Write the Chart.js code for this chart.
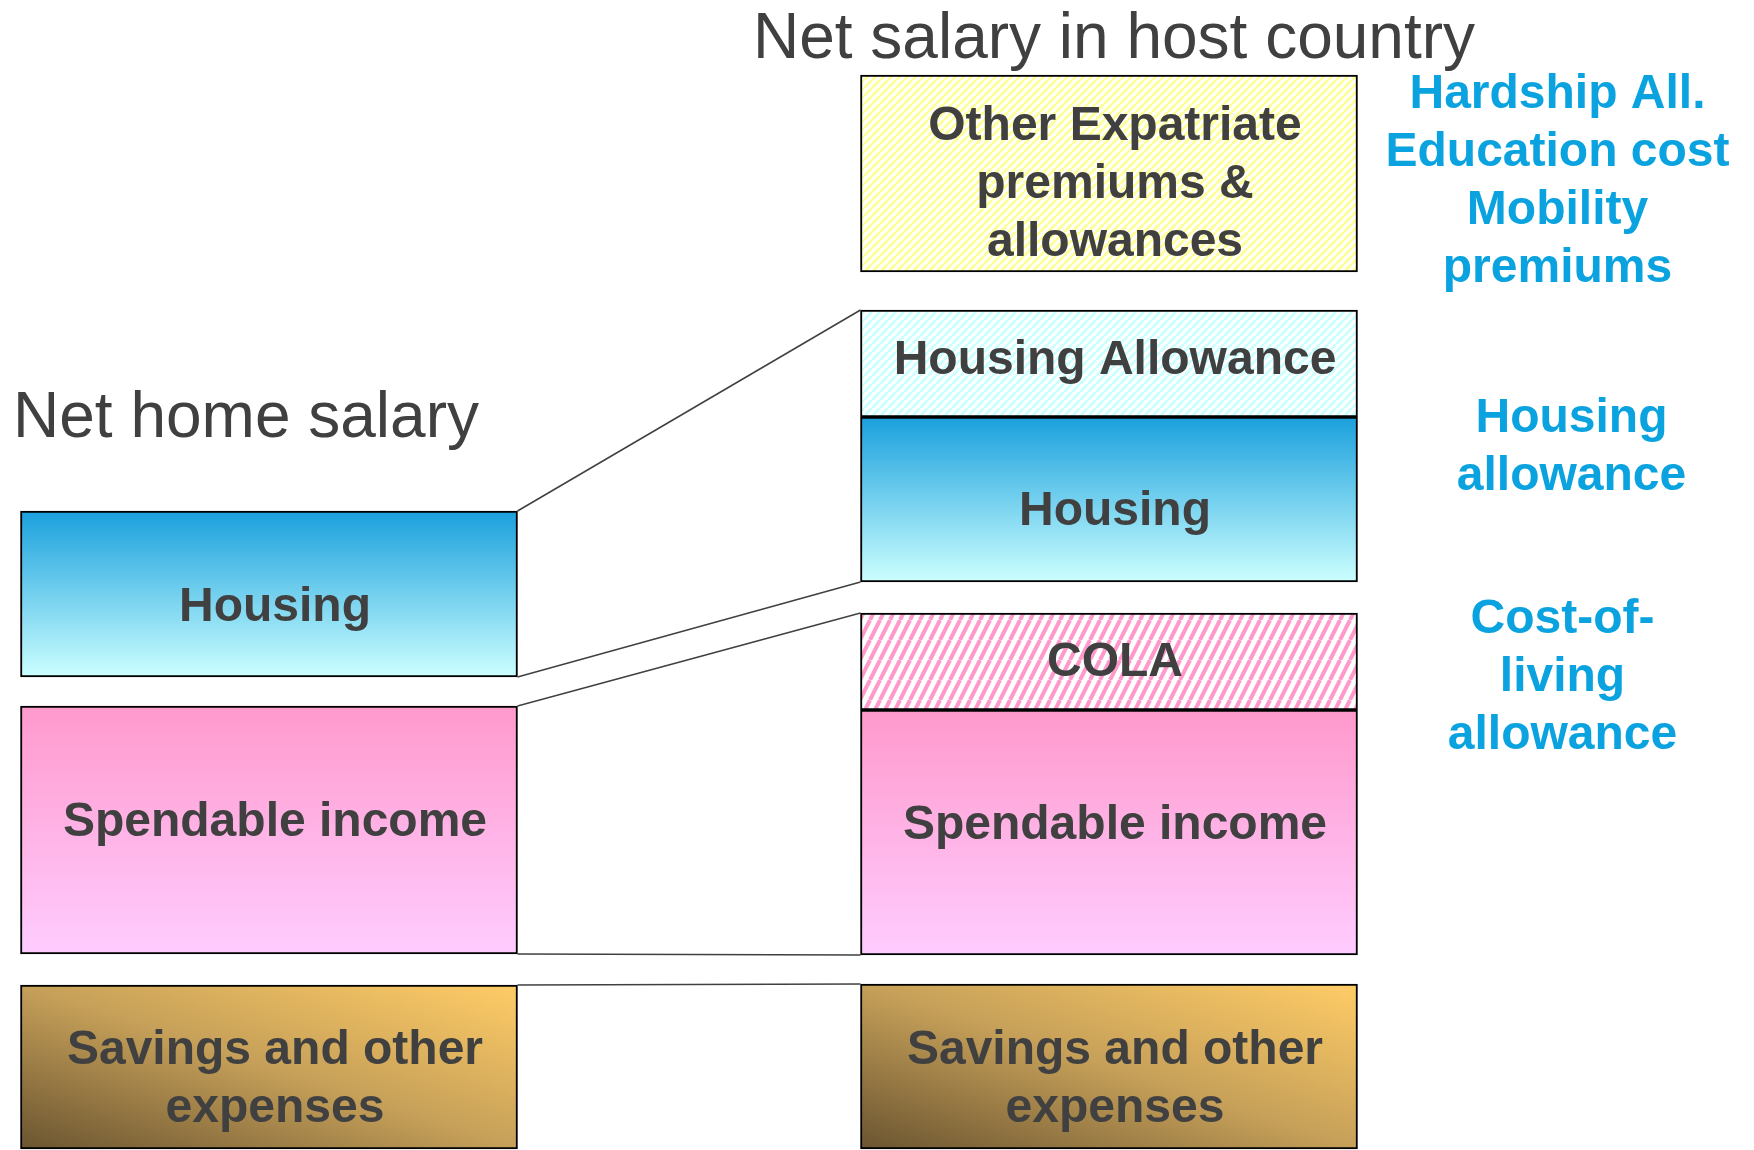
<!DOCTYPE html>
<html>
<head>
<meta charset="utf-8">
<title>Net home salary vs net salary in host country</title>
<script src="https://cdn.jsdelivr.net/npm/chart.js@4.4.1/dist/chart.umd.min.js"></script>
<style>
  html, body { margin: 0; padding: 0; background: #fff; }
  #wrap { width: 1754px; height: 1150px; position: relative; }
</style>
</head>
<body>
<div id="wrap"><canvas id="myChart"></canvas></div>
<script>
// two columns: home salary (left) and host country salary (right)
const columns = ['Net home salary', 'Net salary in host country'];

// every block is a [bottom, top] range, in salary units (0 = bottom of picture)
const savings = [[0.1, 16.5], [0.1, 16.6]];
const spendable = [[19.6, 44.4], [19.5, 44.0]];
const cola = [null, [44.0, 53.7]];
const housing = [[47.3, 63.9], [56.8, 73.3]];
const housingAllowance = [null, [73.3, 84.0]];
const otherPremiums = [null, [87.8, 107.5]];

// text inside the blocks, one entry per line
const blockLabels = [
    ['Savings and other', 'expenses'],
    ['Spendable income'],
    ['COLA'],
    ['Housing'],
    ['Housing Allowance'],
    ['Other Expatriate', 'premiums &', 'allowances']
];

// blue notes on the right side
const sideNotes = [
    ['Hardship All.', 'Education cost', 'Mobility', 'premiums'],
    ['Housing', 'allowance'],
    ['Cost-of-', 'living', 'allowance']
];

// which block edges are joined between the two columns [dataset, edge, dataset, edge]
const links = [
    [3, 'top', 4, 'top'],
    [3, 'bottom', 3, 'bottom'],
    [1, 'top', 2, 'top'],
    [1, 'bottom', 1, 'bottom'],
    [0, 'top', 0, 'top']
];

// small vertical nudges (px) of the block labels, [home, host]
const labelNudge = [[13, 13], [-7, -7], [0, 1], [14, 12], [0, -3], [0, 11]];

const FONT = '"Liberation Sans", Arial, Helvetica, sans-serif';
const darkText = '#404040';
const noteBlue = '#0aa2df';
const barWidth = 497;

let chartArea = document.getElementById('myChart');
let drawCtx = chartArea.getContext('2d');

const stripes = (color, w, h, lw) => {
    const c = document.createElement('canvas');
    c.width = w;
    c.height = h;
    const g = c.getContext('2d');
    g.fillStyle = '#ffffff';
    g.fillRect(0, 0, w, h);
    g.strokeStyle = color;
    g.lineWidth = lw;
    for (const dx of [-w, 0, w]) {
        g.beginPath();
        g.moveTo(dx, h);
        g.lineTo(dx + w, 0);
        g.stroke();
    }
    return drawCtx.createPattern(c, 'repeat');
}

const vGradient = (top, bottom) => {
    return (ctx) => {
        const chart = ctx.chart;
        const raw = ctx.raw;
        if (!chart.chartArea || !raw) return top;
        const y = chart.scales.y;
        const g = chart.ctx.createLinearGradient(0, y.getPixelForValue(raw[1]), 0, y.getPixelForValue(raw[0]));
        g.addColorStop(0, top);
        g.addColorStop(1, bottom);
        return g;
    };
}

// diagonal fill, dark in the lower left corner, light in the upper right
const savingsFill = (ctx) => {
    const chart = ctx.chart;
    const raw = ctx.raw;
    if (!chart.chartArea || !raw) return '#d9a94f';
    const cx = chart.scales.x.getPixelForValue(ctx.dataIndex);
    const y = chart.scales.y;
    const top = y.getPixelForValue(raw[1]);
    const bottom = y.getPixelForValue(raw[0]);
    const w = barWidth, h = bottom - top, cy = (top + bottom) / 2;
    const L = Math.sqrt(w * w + h * h);
    const dx = h / L, dy = -w / L, r = w * h / L;
    const g = chart.ctx.createLinearGradient(cx - dx * r, cy - dy * r, cx + dx * r, cy + dy * r);
    g.addColorStop(0, '#6a5430');
    g.addColorStop(0.5, '#c6a059');
    g.addColorStop(1, '#ffcc66');
    return g;
}

const fills = [
    savingsFill,
    vGradient('#ff99cc', '#ffccff'),
    stripes('#ff99cc', 10, 20, 4),
    vGradient('#1aa0dd', '#ccffff'),
    stripes('#ccffff', 8, 8, 3),
    stripes('#ffff99', 8, 8, 3)
];

const blockData = [savings, spendable, cola, housing, housingAllowance, otherPremiums];

const datasets = blockData.map((values, i) => ({
    label: blockLabels[i].join(' '),
    data: values,
    backgroundColor: fills[i],
    borderColor: '#000000',
    borderWidth: 2,
    borderSkipped: false,
    barThickness: barWidth,
    clip: false
}));

const edgeOf = (bar, edge) => edge == 'top' ? Math.min(bar.y, bar.base) : Math.max(bar.y, bar.base);

const drawLines = (c, lines, x, mid, step) => {
    lines.forEach((t, k) => {
        c.fillText(t, x, mid + (k - (lines.length - 1) / 2) * step);
    });
}

const textPlugin = {
    id: 'textPlugin',
    afterDatasetsDraw(chart) {
        const c = chart.ctx;
        const area = chart.chartArea;
        const metas = chart.data.datasets.map((d, i) => chart.getDatasetMeta(i));
        c.save();

        // connector lines between the two columns
        c.strokeStyle = '#404040';
        c.lineWidth = 1.5;
        links.forEach(([a, ea, b, eb]) => {
            const left = metas[a].data[0];
            const right = metas[b].data[1];
            c.beginPath();
            c.moveTo(left.x + left.width / 2, edgeOf(left, ea));
            c.lineTo(right.x - right.width / 2, edgeOf(right, eb));
            c.stroke();
        });

        // labels in the blocks
        c.fillStyle = darkText;
        c.font = 'bold 48px ' + FONT;
        c.textAlign = 'center';
        c.textBaseline = 'middle';
        chart.data.datasets.forEach((ds, di) => {
            metas[di].data.forEach((bar, i) => {
                if (!ds.data[i]) return;
                const top = Math.max(edgeOf(bar, 'top'), area.top);
                const bottom = Math.min(edgeOf(bar, 'bottom'), area.bottom);
                drawLines(c, blockLabels[di], bar.x + 6, (top + bottom) / 2 + labelNudge[di][i], 58);
            });
        });

        // column titles
        c.font = '64px ' + FONT;
        c.textBaseline = 'alphabetic';
        c.textAlign = 'center';
        c.fillText(columns[1], metas[0].data[1].x + 5, 58);
        c.textAlign = 'left';
        c.fillText(columns[0], 13, 437);

        // blue notes
        const host = (di) => metas[di].data[1];
        const mid = (bar) => (bar.y + bar.base) / 2;
        const noteX = host(0).x + barWidth / 2 + 205;
        c.fillStyle = noteBlue;
        c.font = 'bold 48px ' + FONT;
        c.textAlign = 'center';
        c.textBaseline = 'middle';
        drawLines(c, sideNotes[0], noteX - 5, mid(host(5)) + 8, 58);
        drawLines(c, sideNotes[1], noteX + 9, (edgeOf(host(4), 'top') + edgeOf(host(3), 'bottom')) / 2 + 2, 58);
        drawLines(c, sideNotes[2], noteX, mid(host(2)) + 16, 58);
        c.restore();
    }
};

myChart = new Chart(chartArea, {
    type: 'bar',
    data: {
        labels: columns,
        datasets: datasets
    },
    options: {
        responsive: true,
        maintainAspectRatio: false,
        animation: false,
        events: [],
        layout: { padding: { left: 269, right: 645, top: 0, bottom: 0 } },
        plugins: {
            legend: { display: false },
            tooltip: { enabled: false },
            title: { display: false }
        },
        scales: {
            x: { display: false, stacked: true, offset: false },
            y: { display: false, min: 0, max: 115 }
        }
    },
    plugins: [textPlugin]
});
</script>
</body>
</html>
